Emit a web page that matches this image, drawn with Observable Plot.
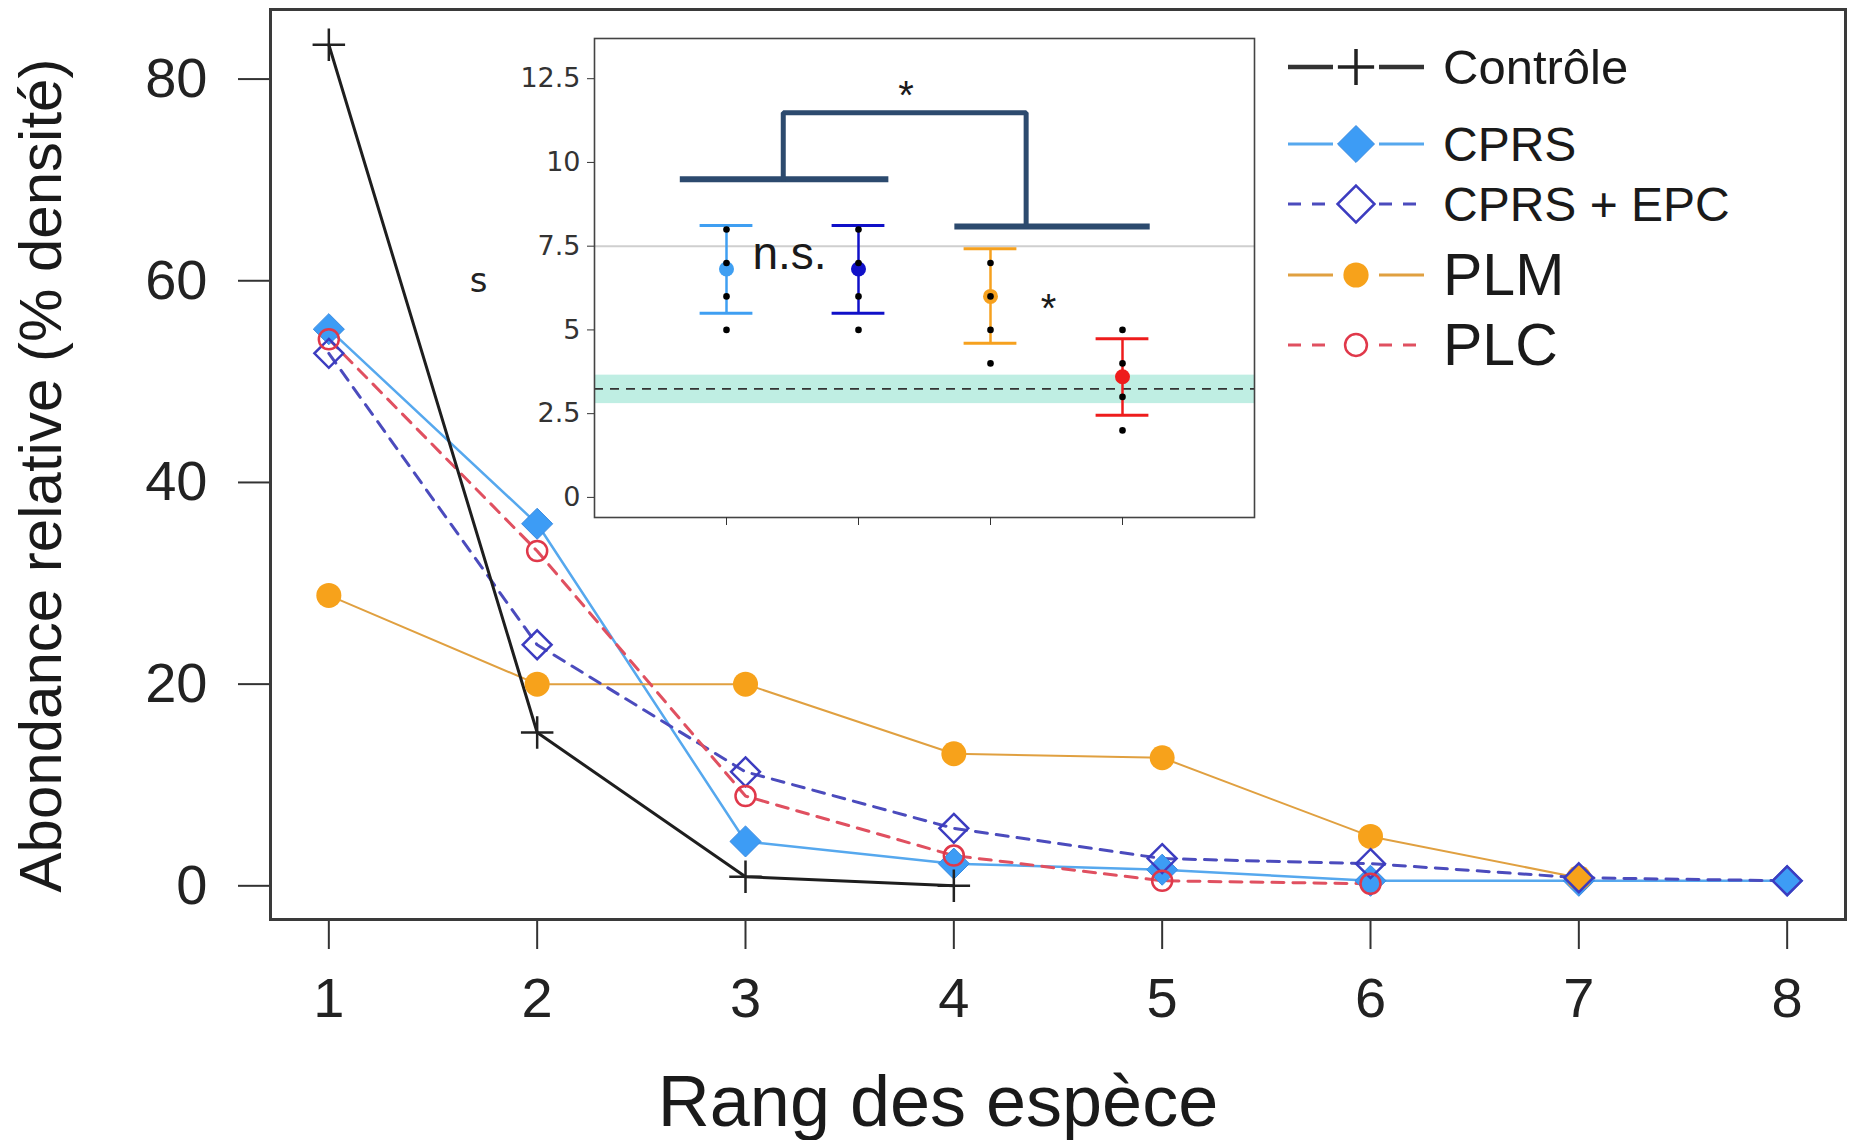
<!DOCTYPE html>
<html><head><meta charset="utf-8">
<script src="https://cdn.jsdelivr.net/npm/d3@7"></script>
<script src="https://cdn.jsdelivr.net/npm/@observablehq/plot@0.6"></script>
<style>
html,body{margin:0;padding:0;background:#fff;}
#wrap{position:relative;width:1852px;height:1140px;overflow:hidden;background:#fff;}
#inset{position:absolute;left:450px;top:30px;}
</style></head><body><div id="wrap"><div id="main"></div><div id="inset"></div></div>
<script>
// ---------- main chart data ----------
const ranks = [1, 2, 3, 4, 5, 6, 7, 8];
const yTicks = [0, 20, 40, 60, 80];
const seriesNames = ["Contrôle", "CPRS", "CPRS + EPC", "PLM", "PLC"];
const controle = [83.4, 15.2, 0.9, 0.0];
const cprs = [55.2, 35.9, 4.4, 2.2, 1.6, 0.5, 0.5, 0.5];
const cprsEpc = [52.8, 23.9, 11.3, 5.7, 2.7, 2.2, 0.8, 0.5];
const plm = [28.8, 20.0, 20.0, 13.1, 12.7, 4.9, 0.8];
const plc = [54.2, 33.2, 8.9, 3.0, 0.5, 0.2];
const xTitle = "Rang des espèce";
const yTitle = "Abondance relative (% densité)";

// ---------- inset data ----------
const groups = [1, 2, 3, 4];
const groupColors = ["#3f9ff2", "#1010c8", "#f6a11e", "#ee1c1c"];
const groupMeans = [6.82, 6.82, 6.0, 3.6];
const groupLow = [5.5, 5.5, 4.6, 2.45];
const groupHigh = [8.12, 8.12, 7.42, 4.74];
const groupPoints = [[8, 7, 6, 5], [8, 7, 6, 5], [7, 6, 5, 4], [5, 4, 3, 2]];
const insetTicks = [0, 2.5, 5, 7.5, 10, 12.5];
const refMean = 3.24, refLow = 2.8, refHigh = 3.65;
const guideLine = 7.5;
const bracketLeft = [0.65, 2.23, 9.5];   // x1, x2, y
const bracketRight = [2.73, 4.21, 8.09]; // x1, x2, y
const bracketTop = 11.48;
const bracketJoinX = [1.43, 3.27];
const insetYLabel = "s";

// ---------- styles ----------
const style = {
  "Contrôle":   {line: "#1e1e1e", width: 3, dash: null, symbol: "plus", r: 10.5, fill: "none", stroke: "#222", sw: 2.5},
  "CPRS":       {line: "#56a8ee", width: 2.5, dash: null, symbol: "diamond2", r: 14, fill: "#3d9cf5", stroke: "#3a8ae0", sw: 1},
  "CPRS + EPC": {line: "#4b4bbd", width: 3, dash: "12,9", symbol: "diamond2", r: 13, fill: "none", stroke: "#3c3cc0", sw: 2.5},
  "PLM":        {line: "#e0a040", width: 2, dash: null, symbol: "circle", r: 12.5, fill: "#f7a21b", stroke: "none", sw: 0},
  "PLC":        {line: "#e05060", width: 3, dash: "12,9", symbol: "circle", r: 10, fill: "none", stroke: "#e0384a", sw: 2.5}
};
const seriesValues = {"Contrôle": controle, "CPRS": cprs, "CPRS + EPC": cprsEpc, "PLM": plm, "PLC": plc};
const toRows = name => seriesValues[name].map((v, i) => ({rank: ranks[i], value: v, series: name}));
const drawOrder = ["CPRS", "PLM", "CPRS + EPC", "PLC", "Contrôle"];

const lineMarks = drawOrder.map(n => Plot.line(toRows(n), {
  x: "rank", y: "value", stroke: style[n].line, strokeWidth: style[n].width,
  strokeDasharray: style[n].dash || undefined
}));
const dotMarks = drawOrder.map(n => Plot.dot(toRows(n), {
  x: "rank", y: "value", symbol: style[n].symbol, r: style[n].r,
  fill: style[n].fill, stroke: style[n].stroke, strokeWidth: style[n].sw
}));

const main = Plot.plot({
  width: 1852, height: 1140,
  marginLeft: 270, marginRight: 7, marginTop: 9, marginBottom: 221,
  x: {domain: [0.72, 8.28]},
  y: {domain: [-3.34, 86.9]},
  style: {fontFamily: "'Liberation Sans', Arial, sans-serif", background: "white", color: "#222", overflow: "visible"},
  marks: [
    Plot.axisX(ranks, {tickSize: 30, tickPadding: 28, fontSize: 56, strokeWidth: 2, stroke: "#333", label: null, tickFormat: d => String(d)}),
    Plot.axisY(yTicks, {tickSize: 32, tickPadding: 31, fontSize: 56, strokeWidth: 2, stroke: "#333", label: null, tickFormat: d => String(d)}),
    ...lineMarks,
    ...dotMarks,
    Plot.frame({stroke: "#3a3a3a", strokeWidth: 3}),
    Plot.text([xTitle], {frameAnchor: "bottom", textAnchor: "middle", lineAnchor: "middle", dx: -120, dy: 183, fontSize: 72, fill: "#1a1a1a"}),
    Plot.text([yTitle], {frameAnchor: "left", textAnchor: "middle", lineAnchor: "middle", rotate: -90, dx: -229, dy: 11, fontSize: 60, fill: "#1a1a1a"})
  ]
});
document.getElementById("main").appendChild(main);

// ---------- legend (inside main frame, top right) ----------
const lg = d3.select(main).append("g").attr("text-anchor", "start");
const legendRowsY = [67, 144, 204, 275, 345];
const legendFont = [49, 48, 48, 59, 59];
seriesNames.forEach((n, i) => {
  const s = style[n], y = legendRowsY[i];
  const g = lg.append("g");
  const lw = n === "Contrôle" ? 4.5 : 3.2;
  const dash = s.dash ? "13,11" : null;
  [[1288, 1333], [1379, 1424]].forEach(([a, b]) => {
    g.append("line").attr("x1", a).attr("x2", b).attr("y1", y).attr("y2", y)
      .attr("stroke", n === "Contrôle" ? "#333" : s.line).attr("stroke-width", lw)
      .attr("stroke-dasharray", dash);
  });
  const sym = {plus: d3.symbolPlus, diamond2: d3.symbolDiamond2, circle: d3.symbolCircle}[s.symbol];
  const size = {plus: 430, diamond2: 870, circle: 500}[s.symbol] * (n === "PLC" ? 0.75 : 1);
  g.append("path").attr("d", d3.symbol(sym, size)()).attr("transform", `translate(1356,${y})`)
    .attr("fill", s.fill).attr("stroke", s.stroke === "none" ? null : s.stroke)
    .attr("stroke-width", n === "Contrôle" ? 3.5 : s.sw);
  g.append("text").attr("x", 1443).attr("y", y).attr("dominant-baseline", "central")
    .attr("text-anchor", "start")
    .attr("font-size", legendFont[i]).attr("fill", "#1a1a1a").text(n);
});

// ---------- inset ----------
const groupRows = groups.map((g, i) => ({g, mean: groupMeans[i], lo: groupLow[i], hi: groupHigh[i], color: groupColors[i]}));
const pointRows = groups.flatMap((g, i) => groupPoints[i].map(v => ({g, v})));
const capHalf = 0.2;
const bracketPath = [
  {x: bracketJoinX[0], y: bracketLeft[2]}, {x: bracketJoinX[0], y: bracketTop},
  {x: bracketJoinX[1], y: bracketTop}, {x: bracketJoinX[1], y: bracketRight[2]}
];
const bracketBars = [
  {x1: bracketLeft[0], x2: bracketLeft[1], y: bracketLeft[2]},
  {x1: bracketRight[0], x2: bracketRight[1], y: bracketRight[2]}
];
const notes = [
  {x: 1.477, y: 7.18, text: "n.s.", size: 46, dy: -3},
  {x: 2.36, y: 12.28, text: "*", size: 40, dy: 10},
  {x: 3.44, y: 5.93, text: "*", size: 40, dy: 10}
];

const inset = Plot.plot({
  width: 810, height: 520,
  marginLeft: 144, marginRight: 6, marginTop: 8, marginBottom: 33,
  x: {domain: [0, 5]},
  y: {domain: [-0.6, 13.7]},
  style: {fontFamily: "'DejaVu Sans', sans-serif", background: "transparent", color: "#333", overflow: "visible"},
  marks: [
    Plot.frame({fill: "white"}),
    Plot.rect([{y1: refLow, y2: refHigh}], {y1: "y1", y2: "y2", fill: "#bfeee3"}),
    Plot.ruleY([guideLine], {stroke: "#cfcfcf", strokeWidth: 2}),
    Plot.ruleY([refMean], {stroke: "#333", strokeWidth: 1.6, strokeDasharray: "9,7"}),
    Plot.ruleY(bracketBars, {x1: "x1", x2: "x2", y: "y", stroke: "#2c4a6e", strokeWidth: 6}),
    Plot.line(bracketPath, {x: "x", y: "y", stroke: "#2c4a6e", strokeWidth: 5, strokeLinejoin: "miter"}),
    Plot.ruleX(groupRows, {x: "g", y1: "lo", y2: "hi", stroke: "color", strokeWidth: 2.5}),
    Plot.ruleY(groupRows, {x1: d => d.g - capHalf, x2: d => d.g + capHalf, y: "lo", stroke: "color", strokeWidth: 3}),
    Plot.ruleY(groupRows, {x1: d => d.g - capHalf, x2: d => d.g + capHalf, y: "hi", stroke: "color", strokeWidth: 3}),
    Plot.dot(groupRows, {x: "g", y: "mean", r: 7.5, fill: "color"}),
    Plot.dot(pointRows, {x: "g", y: "v", r: 3.3, fill: "black"}),
    Plot.frame({stroke: "#444", strokeWidth: 1.6}),
    Plot.axisY(insetTicks, {tickSize: 7, tickPadding: 7, fontSize: 27, stroke: "#333", label: null, tickFormat: d => String(d)}),
    Plot.axisX(groups, {tickSize: 8, tickFormat: () => "", stroke: "#333", label: null}),
    ...notes.map(d => Plot.text([d], {x: "x", y: "y", text: "text", fontSize: d.size, dy: d.dy, fill: "#1a1a1a",
      fontFamily: "'Liberation Sans', Arial, sans-serif"})),
    Plot.text([insetYLabel], {frameAnchor: "left", textAnchor: "middle", y: () => 6.47, dx: -116, fontSize: 34, fill: "#222"})
  ]
});
document.getElementById("inset").appendChild(inset);
</script></body></html>
